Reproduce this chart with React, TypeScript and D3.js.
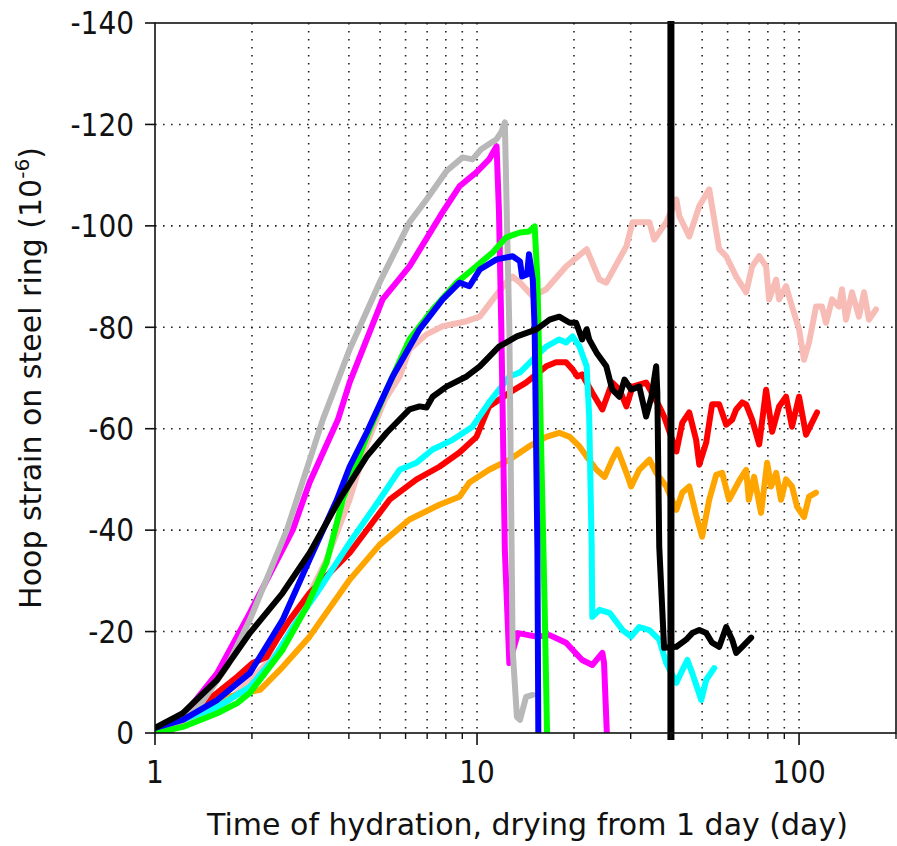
import React from "react";
import * as d3 from "d3";

// chart data: [time (day), hoop strain (1e-6)]
const graySeries: [number, number][] = [[1,0],[1.15,-1.6],[1.38,-5.5],[1.67,-13],[1.97,-22.3],[2.57,-40.1],[3.32,-61.8],[4.02,-75.6],[4.98,-88.8],[6.17,-100.7],[6.97,-105.2],[8.04,-110.8],[9.02,-113.5],[9.68,-113.1],[10.3,-115.1],[11.5,-117.1],[11.9,-118.5],[12.2,-120.4],[12.4,-99.3],[12.6,-79.6],[12.9,-16.4],[13.3,-3.2],[13.6,-2.6],[14.2,-7.1],[14.9,-7.5]];
const magentaSeries: [number, number][] = [[1.11,0],[1.56,-11.8],[1.97,-23.7],[2.68,-40.1],[3.02,-49.4],[3.70,-61.8],[4.02,-69.1],[5.09,-85.5],[6.17,-92.0],[7.82,-102.7],[8.82,-107.8],[9.97,-110.6],[10.9,-113.1],[11.5,-115.7],[11.7,-102.7],[11.9,-79.6],[12.2,-36.1],[12.6,-13.8],[13.4,-19.7],[15.3,-19.0],[16.8,-19.3],[18.9,-17.8],[21.2,-14.4],[22.8,-13.4],[24.5,-15.8],[24.8,-13.8],[25.3,0]];
const greenSeries: [number, number][] = [[1,0],[1.22,-1.2],[1.56,-3.9],[1.80,-5.9],[1.97,-7.9],[2.49,-16.4],[2.96,-24.9],[3.41,-33.6],[3.83,-46.0],[4.54,-58.4],[5.24,-67.7],[6.17,-77.6],[7.28,-83.5],[8.64,-88.8],[9.68,-91.4],[11.2,-94.8],[12.3,-97.7],[13.6,-98.7],[14.5,-98.9],[15.1,-99.9],[15.4,-89.4],[15.7,-65.7],[16.2,-26.3],[16.5,0]];
const blueSeries: [number, number][] = [[1,-1.0],[1.22,-2.6],[1.56,-6.5],[1.97,-11.8],[2.49,-22.3],[3.02,-34.2],[3.67,-46.0],[4.02,-52.5],[4.54,-59.2],[5.47,-70.3],[6.63,-79.6],[7.82,-85.5],[8.82,-88.8],[9.47,-88.1],[10.2,-91.4],[11.5,-93.4],[12.9,-94.0],[13.6,-93.0],[13.8,-90.0],[14.3,-90.4],[14.5,-94.4],[14.9,-89.4],[15.1,-79.6],[15.4,-36.1],[15.5,0]];
const pinkSeries: [number, number][] = [[1,0],[1.56,-4.1],[2.49,-16.8],[3.41,-34.2],[4.02,-46.0],[4.54,-56.9],[5.17,-65.7],[5.75,-70.3],[6.17,-75.6],[6.97,-78.6],[7.82,-80.2],[9.28,-81.2],[10.2,-82.1],[11.2,-85.5],[12.3,-88.8],[12.9,-90.0],[13.6,-88.8],[14.9,-86.1],[16.4,-87.5],[18.9,-92.0],[21.9,-95.4],[24.0,-89.4],[25.2,-88.8],[29.1,-96.0],[30.4,-100.7],[34.3,-100.7],[35.5,-97.3],[38.7,-100.7],[41.6,-105.2],[42.5,-101.9],[45.6,-97.9],[49.0,-103.9],[52.6,-107.2],[56.5,-95.4],[59.4,-94.0],[63.8,-90.0],[68.5,-86.9],[71.5,-92.0],[75.2,-94.0],[79.0,-92.0],[80.7,-85.5],[84.9,-89.4],[86.7,-85.5],[91.1,-88.1],[95.1,-84.1],[100,-79.6],[103.6,-73.6],[107.4,-77.0],[112.9,-84.1],[117.8,-84.1],[121.3,-80.9],[126.6,-85.5],[133.0,-84.1],[135.9,-87.5],[139.9,-81.5],[146.0,-86.9],[153.5,-82.1],[159.1,-86.9],[164.9,-81.5],[173.3,-83.5]];
const blackSeries: [number, number][] = [[1,-1.0],[1.22,-3.9],[1.56,-10.5],[1.97,-19.7],[2.49,-27.6],[3.02,-35.5],[3.74,-46.0],[4.54,-54.5],[5.24,-59.2],[6.17,-63.8],[6.63,-64.4],[6.97,-64.2],[7.28,-66.3],[8.04,-68.3],[9.28,-70.3],[10.2,-72.3],[11.7,-76.2],[13.3,-78.2],[15.3,-79.6],[16.8,-81.5],[18.0,-82.1],[19.4,-80.9],[20.3,-80.9],[21.2,-77.6],[21.9,-79.6],[22.3,-77.6],[23.5,-75.0],[25.2,-72.3],[26.3,-67.7],[27.7,-66.3],[28.7,-69.7],[30.1,-67.7],[31.9,-68.3],[33.5,-62.4],[34.8,-66.3],[36.0,-72.3],[36.3,-67.1],[36.8,-36.7],[38.1,-16.8],[41.6,-17.0],[44.6,-18.4],[46.6,-19.7],[49.0,-20.3],[51.5,-19.7],[53.7,-17.8],[56.5,-17.0],[59.4,-20.9],[62.0,-18.4],[63.8,-15.8],[66.6,-17.0],[71.0,-18.8]];
const cyanSeries: [number, number][] = [[1,-1.0],[1.22,-2.6],[1.56,-5.1],[1.97,-9.1],[2.32,-14.4],[2.68,-20.9],[3.18,-27.6],[4.02,-37.5],[4.98,-46.0],[5.75,-51.9],[6.49,-53.3],[7.28,-55.9],[8.40,-57.8],[9.68,-60.4],[10.9,-65.2],[12.6,-70.3],[13.6,-71.1],[14.9,-73.6],[16.4,-76.2],[18.0,-77.6],[18.9,-77.0],[19.8,-78.2],[20.8,-76.2],[21.9,-72.3],[22.3,-62.4],[22.7,-36.7],[22.8,-22.9],[24.0,-24.3],[25.8,-23.7],[28.3,-20.3],[30.1,-19.0],[31.9,-20.9],[34.3,-20.3],[36.8,-18.4],[38.7,-13.8],[41.6,-9.9],[43.4,-12.4],[45.0,-14.4],[46.6,-11.8],[49.7,-6.5],[51.5,-10.5],[54.5,-12.8]];
const redSeries: [number, number][] = [[1,-1.0],[1.22,-3.0],[1.56,-7.9],[1.80,-11.1],[2.01,-13.8],[2.22,-15.0],[2.39,-18.4],[2.62,-22.3],[3.02,-27.6],[4.02,-35.5],[5.35,-46.0],[6.49,-50.0],[7.64,-52.5],[8.82,-55.3],[9.96,-58.4],[10.9,-64.4],[12.6,-67.1],[14.2,-69.1],[16.4,-72.3],[17.6,-73.1],[18.9,-73.1],[19.8,-71.7],[20.5,-70.3],[21.2,-70.7],[22.8,-67.1],[24.5,-63.8],[26.3,-69.1],[27.7,-67.7],[29.1,-64.4],[30.4,-68.3],[33.5,-69.1],[36.8,-64.4],[38.1,-62.4],[41.6,-55.5],[43.4,-61.2],[45.6,-63.2],[47.9,-57.8],[49.0,-52.9],[51.5,-57.3],[53.7,-64.8],[56.5,-64.8],[59.4,-60.8],[62.0,-61.8],[63.8,-63.8],[66.6,-65.2],[68.5,-64.8],[71.5,-61.8],[75.2,-56.9],[79.0,-67.7],[82.5,-59.4],[86.7,-64.4],[91.1,-66.3],[95.1,-60.4],[100,-66.3],[105.1,-58.8],[109.7,-61.2],[113.7,-63.2]];
const orangeSeries: [number, number][] = [[1,-0.6],[1.22,-2.6],[1.56,-6.5],[1.88,-7.9],[2.12,-8.5],[2.49,-13.0],[3.02,-19.0],[4.02,-30.2],[4.98,-37.1],[6.17,-42.1],[7.64,-45.0],[8.82,-46.6],[9.47,-49.4],[10.9,-51.9],[12.6,-53.9],[14.5,-56.5],[16.4,-58.4],[18.0,-59.2],[19.4,-58.4],[20.8,-56.5],[21.9,-54.5],[23.5,-51.9],[24.9,-50.5],[26.3,-53.9],[27.3,-55.9],[29.1,-51.3],[30.1,-48.6],[31.9,-51.9],[34.3,-53.9],[36.0,-51.3],[38.7,-48.6],[41.6,-44.0],[43.4,-47.4],[45.6,-48.6],[47.9,-43.0],[50.0,-38.7],[52.6,-46.0],[55.3,-50.9],[57.7,-51.3],[60.6,-46.0],[65.0,-49.6],[68.5,-51.9],[69.8,-46.0],[72.5,-50.5],[76.2,-43.4],[79.6,-53.3],[81.9,-48.6],[84.9,-51.3],[87.9,-46.0],[91.1,-50.0],[95.1,-48.6],[98.6,-44.6],[103.6,-42.6],[107.4,-46.6],[112.9,-47.4]];

const dryingStart = 40;
const yTicks = [0, -20, -40, -60, -80, -100, -120, -140];
const xMajorTicks = [1, 10, 100];
const xMinorTicks = [2, 3, 4, 5, 6, 7, 8, 9, 20, 30, 40, 50, 60, 70, 80, 90, 200];
const xGridValues = [2, 3, 4, 5, 6, 7, 8, 9, 10, 20, 30, 50, 60, 70, 80, 90, 100];

const series = [
  { data: pinkSeries, color: "#f8bcb7" },
  { data: orangeSeries, color: "#ffa500" },
  { data: redSeries, color: "#ff0000" },
  { data: cyanSeries, color: "#00ffff" },
  { data: magentaSeries, color: "#ff00ff" },
  { data: graySeries, color: "#b8b8b8" },
  { data: greenSeries, color: "#00ff00" },
  { data: blueSeries, color: "#0000ff" },
  { data: blackSeries, color: "#000000" },
];

const W = 897, H = 846;
const margin = { top: 23, right: 1, bottom: 113, left: 155 };
const innerW = W - margin.left - margin.right;
const innerH = H - margin.top - margin.bottom;
const font = "DejaVu Sans, sans-serif";

export default function App() {
  const x = d3.scaleLog().domain([1, 200]).range([0, innerW]);
  const y = d3.scaleLinear().domain([0, -140]).range([innerH, 0]);
  const line = d3.line<[number, number]>().x(d => x(d[0])).y(d => y(d[1]));

  return (
    <svg width={W} height={H} style={{ position: "absolute", left: 0, top: 0, background: "#fff" }}>
      <defs>
        <clipPath id="plotClip">
          <rect x={0} y={0} width={innerW} height={innerH} />
        </clipPath>
      </defs>
      <g transform={`translate(${margin.left},${margin.top})`}>
        {/* dotted grid */}
        {yTicks.filter(v => v !== 0 && v !== -140).map(v => (
          <line key={"gy" + v} x1={0} x2={innerW} y1={y(v)} y2={y(v)} stroke="#222" strokeWidth={1.6} strokeDasharray="1.6,6.4" />
        ))}
        {xGridValues.map(v => (
          <line key={"gx" + v} x1={x(v)} x2={x(v)} y1={0} y2={innerH} stroke="#222" strokeWidth={1.6} strokeDasharray="1.6,6.4" />
        ))}

        {/* series */}
        <g clipPath="url(#plotClip)">
          {series.map((s, i) => (
            <path key={i} d={line(s.data) || ""} fill="none" stroke={s.color} strokeWidth={6} strokeLinejoin="round" strokeLinecap="round" />
          ))}
        </g>

        {/* drying start marker */}
        <line x1={x(dryingStart)} x2={x(dryingStart)} y1={-2} y2={innerH + 7} stroke="#000" strokeWidth={7} />

        {/* frame */}
        <rect x={0} y={0} width={innerW} height={innerH} fill="none" stroke="#111" strokeWidth={1.6} />

        {/* y axis */}
        {yTicks.map(v => (
          <g key={"yt" + v} transform={`translate(0,${y(v)})`}>
            <line x1={-10} x2={0} stroke="#111" strokeWidth={1.6} />
            <text x={-21} dy="0.36em" textAnchor="end" fontFamily={font} fontSize={28} fill="#111" transform="scale(1,1.12)">{String(v)}</text>
          </g>
        ))}

        {/* x axis */}
        {xMajorTicks.map(v => (
          <g key={"xt" + v} transform={`translate(${x(v)},${innerH})`}>
            <line y1={0} y2={12} stroke="#111" strokeWidth={1.6} />
            <text y={44.6} textAnchor="middle" fontFamily={font} fontSize={28} fill="#111" transform="scale(1,1.12)">{String(v)}</text>
          </g>
        ))}
        {xMinorTicks.map(v => (
          <line key={"xm" + v} x1={x(v)} x2={x(v)} y1={innerH} y2={innerH + 6} stroke="#111" strokeWidth={1.4} />
        ))}

        <text x={innerW / 2 + 2} y={innerH + 102} textAnchor="middle" fontFamily={font} fontSize={30} fill="#111">
          Time of hydration, drying from 1 day (day)
        </text>
      </g>

      <text transform={`translate(41,378) rotate(-90)`} textAnchor="middle" fontFamily={font} fontSize={30} fill="#111">
        Hoop strain on steel ring (10<tspan dy="-12" fontSize={20}>-6</tspan><tspan dy="12">)</tspan>
      </text>
    </svg>
  );
}
